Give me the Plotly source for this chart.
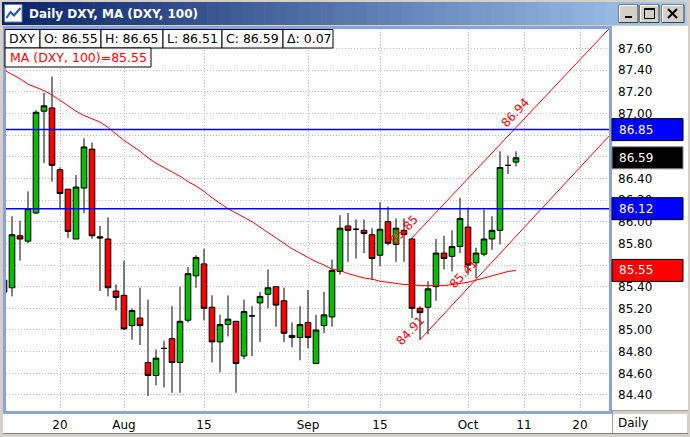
import numpy as np
import pandas as pd
import plotly.graph_objects as go

# ---------------- data ----------------
HOLIDAYS = ["2006-09-04"]
dates = pd.bdate_range("2006-07-11", "2006-10-10", freq="C", holidays=HOLIDAYS)

opens = [85.46, 85.39, 85.87, 85.82, 86.08, 87.02, 87.05,
         86.48, 86.30, 85.84, 86.31, 86.67, 85.86, 85.84, 85.36, 85.32, 85.04,
         85.11, 84.70, 84.58, 84.83, 84.92, 84.70, 85.09, 85.50, 85.61, 85.21,
         84.89, 85.05, 85.08, 84.76, 85.13, 85.25, 85.33, 85.40, 85.27, 84.93,
         84.93, 85.07, 84.69, 85.04, 85.12, 85.54, 85.96, 85.93, 85.92, 85.88,
         85.69, 86.00, 85.79, 85.92, 85.84, 85.20, 85.21, 85.40, 85.71, 85.68,
         85.77, 85.95, 85.62, 85.70, 85.84, 85.92, 86.52, 86.55]
highs = [85.50, 86.05, 86.01, 86.28, 87.03, 87.19, 87.34,
         86.50, 86.30, 86.43, 86.77, 86.73, 85.96, 86.04, 85.42, 85.64, 85.20,
         85.39, 85.28, 84.82, 84.90, 85.22, 85.40, 85.58, 85.69, 85.75, 85.32,
         85.14, 85.32, 85.08, 85.28, 85.22, 85.35, 85.56, 85.40, 85.39, 85.07,
         85.22, 85.37, 85.14, 85.35, 85.65, 86.06, 86.08, 86.02, 86.02, 85.94,
         86.18, 86.14, 86.03, 86.03, 85.85, 85.22, 85.45, 85.84, 85.87, 85.92,
         86.22, 86.13, 85.76, 86.11, 86.05, 86.65, 86.61, 86.65]
lows = [85.32, 85.31, 85.64, 85.80, 86.07, 86.54, 86.37,
        86.12, 85.85, 85.84, 86.08, 85.84, 85.36, 85.31, 85.18, 85.00, 84.91,
        84.86, 84.39, 84.49, 84.47, 84.42, 84.42, 85.07, 85.39, 85.09, 84.70,
        84.61, 84.94, 84.42, 84.73, 84.76, 84.89, 85.20, 85.03, 84.89, 84.84,
        84.72, 84.83, 84.69, 84.97, 85.03, 85.51, 85.63, 85.66, 85.71, 85.46,
        85.59, 85.78, 85.63, 85.63, 85.11, 84.91, 84.96, 85.27, 85.56, 85.54,
        85.71, 85.51, 85.48, 85.68, 85.74, 85.79, 86.44, 86.51]
closes = [85.35, 85.88, 85.84, 86.12, 87.01, 87.07, 86.52,
          86.26, 85.91, 86.32, 86.69, 85.87, 85.85, 85.39, 85.30, 85.01, 85.18,
          85.04, 84.58, 84.74, 84.83, 84.70, 85.08, 85.52, 85.67, 85.20, 84.89,
          85.05, 85.10, 84.69, 85.17, 85.13, 85.31, 85.39, 85.23, 84.97, 84.95,
          85.05, 84.93, 85.00, 85.14, 85.55, 85.94, 85.92, 85.93, 85.89, 85.66,
          85.93, 85.80, 85.94, 85.88, 85.20, 85.16, 85.38, 85.71, 85.66, 85.77,
          86.03, 85.60, 85.71, 85.84, 85.92, 86.50, 86.52, 86.59]
ma100 = [87.40, 87.36, 87.32, 87.27, 87.24, 87.21, 87.17,
         87.12, 87.07, 87.02, 86.98, 86.95, 86.92, 86.87, 86.81, 86.75, 86.70,
         86.65, 86.59, 86.54, 86.50, 86.46, 86.42, 86.37, 86.33, 86.28, 86.22,
         86.17, 86.12, 86.08, 86.04, 86.00, 85.95, 85.90, 85.85, 85.80, 85.75,
         85.71, 85.67, 85.63, 85.60, 85.56, 85.55, 85.52, 85.50, 85.48, 85.47,
         85.45, 85.44, 85.43, 85.42, 85.42, 85.41, 85.41, 85.41, 85.41, 85.42,
         85.43, 85.44, 85.46, 85.48, 85.50, 85.52, 85.54, 85.55]

hlines = [86.85, 86.12]
chan_upper_dates = ["2006-09-21", "2006-10-26"]
chan_upper_vals = [85.85, 87.81]
chan_lower_dates = ["2006-09-22", "2006-10-26"]
chan_lower_vals = [84.91, 86.82]
chan_label_dates = ["2006-09-21", "2006-09-22", "2006-10-02", "2006-10-11"]
chan_label_vals = [85.85, 84.91, 85.41, 86.94]

tick_dates = ["2006-07-20", "2006-08-01", "2006-08-15", "2006-09-01",
              "2006-09-15", "2006-10-02", "2006-10-11", "2006-10-20"]
tick_text = ["20", "Aug", "15", "Sep", "15", "Oct", "11", "20"]
price_ticks = [84.4, 84.6, 84.8, 85.0, 85.2, 85.4, 85.6, 85.8, 86.0,
               86.2, 86.4, 86.6, 86.8, 87.0, 87.2, 87.4, 87.6]


def tday(d):
    s = pd.Timestamp(d).strftime("%Y-%m-%d")
    return int(np.busday_count(np.datetime64("2006-07-20"), np.datetime64(s), holidays=HOLIDAYS))


xi = [tday(d) for d in dates]

# ---------------- geometry ----------------
W, H = 690, 437
PL, PR, PT, PB = 6, 609, 29, 411
FONT = "DejaVu Sans"


def px(x):
    return (x - PL) / (PR - PL)


def py(y):
    return (PB - y) / (PB - PT)


def R(x0, y0, x1, y1, fill, lc=None, lw=0, layer="above"):
    return dict(type="rect", xref="paper", yref="paper",
                x0=px(x0), x1=px(x1), y0=py(y1), y1=py(y0),
                fillcolor=fill, line=dict(color=lc or fill, width=lw), layer=layer)


def L(x0, y0, x1, y1, color, w=1):
    return dict(type="line", xref="paper", yref="paper",
                x0=px(x0), x1=px(x1), y0=py(y0), y1=py(y1),
                line=dict(color=color, width=w), layer="above")


fig = go.Figure()

fig.add_trace(go.Candlestick(
    x=xi, open=opens, high=highs, low=lows, close=closes,
    increasing=dict(fillcolor="#00C000", line=dict(color="#000000", width=1)),
    decreasing=dict(fillcolor="#FF0000", line=dict(color="#000000", width=1)),
    whiskerwidth=0, hoverinfo="skip", showlegend=False))

fig.add_trace(go.Scatter(x=xi, y=ma100, mode="lines",
                         line=dict(color="#FF0000", width=1),
                         hoverinfo="skip", showlegend=False))
fig.add_trace(go.Scatter(x=[tday(d) for d in chan_upper_dates], y=chan_upper_vals,
                         mode="lines", line=dict(color="#FF0000", width=1),
                         hoverinfo="skip", showlegend=False))
fig.add_trace(go.Scatter(x=[tday(d) for d in chan_lower_dates], y=chan_lower_vals,
                         mode="lines", line=dict(color="#FF0000", width=1),
                         hoverinfo="skip", showlegend=False))

shapes = []
# white areas outside plot (below axis labels)
shapes.append(R(612, 26, 688, 410, "#FFFFFF", layer="below"))
shapes.append(R(3, 414, 687, 433, "#FFFFFF", layer="below"))

# horizontal blue lines
for v in hlines:
    shapes.append(dict(type="line", xref="paper", yref="y", x0=0, x1=1, y0=v, y1=v,
                       line=dict(color="#0000FF", width=1.5), layer="above"))

# plot border
BC = "#8DA2DB"
shapes.append(R(3, 26, 612, 29, BC))
shapes.append(R(3, 411, 612, 414, BC))
shapes.append(R(3, 26, 6, 414, BC))
shapes.append(R(609, 26, 612, 411, BC))
# separators in axis area
shapes.append(L(612, 410.5, 688, 410.5, "#A0A0A0", 1))
shapes.append(L(612.5, 411, 612.5, 433, "#A0A0A0", 1))
shapes.append(L(3, 433.5, 688, 433.5, "#808080", 1))

# title bar gradient
c0 = np.array([10, 36, 106])
c1 = np.array([166, 202, 240])
n = 60
x_start, x_end = 2, 686
for i in range(n):
    t = i / (n - 1)
    c = (c0 + (c1 - c0) * t).astype(int)
    xa = x_start + (x_end - x_start) * i / n
    xb = x_start + (x_end - x_start) * (i + 1) / n + 0.6
    shapes.append(R(xa, 2, xb, 25, "rgb(%d,%d,%d)" % tuple(c)))

# icon
shapes.append(dict(type="rect", xref="paper", yref="paper", x0=px(4.5), x1=px(22), y0=py(22), y1=py(4.5),
                   fillcolor="#FFFFFF", line=dict(color="#6080B0", width=1), layer="above"))
shapes.append(dict(type="path", xref="paper", yref="paper",
                   path="M %f,%f L %f,%f L %f,%f L %f,%f" % (px(6.5), py(18), px(10.5), py(12), px(14), py(15.5), px(20.5), py(8)),
                   line=dict(color="#2050C0", width=2), layer="above"))

# window buttons
for (bx0, bx1) in [(619, 638), (640, 659), (662, 684)]:
    shapes.append(R(bx0, 5, bx1, 22.5, "#D4D0C8", "#404040", 1))
    shapes.append(L(bx0 + 0.5, 5.5, bx1 - 1, 5.5, "#FFFFFF", 1))
    shapes.append(L(bx0 + 0.5, 5.5, bx0 + 0.5, 22, "#FFFFFF", 1))
shapes.append(R(625, 16, 632, 18, "#000000"))
shapes.append(dict(type="rect", xref="paper", yref="paper", x0=px(644.5), x1=px(654.5), y0=py(18.5), y1=py(8.5),
                   fillcolor="rgba(0,0,0,0)", line=dict(color="#000000", width=1), layer="above"))
shapes.append(R(644.5, 8.5, 654.5, 10, "#000000"))
shapes.append(L(668, 9, 677, 18, "#000000", 2))
shapes.append(L(677, 9, 668, 18, "#000000", 2))

# info boxes
box_edges = [5, 40, 101, 163, 222, 283, 333]
for i in range(len(box_edges) - 1):
    shapes.append(R(box_edges[i], 29.5, box_edges[i + 1], 48, "#FFFFFF", "#000000", 1))
shapes.append(R(5, 48, 151, 67, "#FFFFFF", "#000000", 1))

# price boxes on right axis
price_boxes = [(hlines[0], "#0000FF", "#000000"), (closes[-1], "#000000", "#808080"),
               (hlines[1], "#0000FF", "#000000"), (ma100[-1], "#FF0000", "#000000")]
for v, fc, lc in price_boxes:
    shapes.append(dict(type="rect", xref="paper", yref="y", ysizemode="pixel", yanchor=v,
                       y0=-11, y1=11, x0=px(612), x1=px(683),
                       fillcolor=fc, line=dict(color=lc, width=1), layer="above"))

# tick labels fully hidden behind a price box are left blank
price_ticktext = []
for t in price_ticks:
    hidden = any(abs(t - v) < 0.06 for v, _, _ in price_boxes)
    price_ticktext.append("" if hidden else "%.2f" % t)

annotations = []
annotations.append(dict(text="<b>Daily DXY, MA (DXY, 100)</b>", xref="paper", yref="paper",
                        x=px(27), y=py(13.5), xanchor="left", yanchor="middle", showarrow=False,
                        font=dict(family=FONT, size=12, color="#FFFFFF")))
info_texts = ["DXY", "O: %.2f" % opens[-1], "H: %.2f" % highs[-1], "L: %.2f" % lows[-1],
              "C: %.2f" % closes[-1], "Δ: %.2f" % (closes[-1] - closes[-2])]
for i, t in enumerate(info_texts):
    annotations.append(dict(text=t, xref="paper", yref="paper", x=px(box_edges[i] + 2), y=py(39),
                            xanchor="left", yanchor="middle", showarrow=False,
                            font=dict(family=FONT, size=12.5, color="#000000")))
annotations.append(dict(text="MA (DXY, 100)=%.2f" % ma100[-1], xref="paper", yref="paper",
                        x=px(8), y=py(57.5), xanchor="left", yanchor="middle", showarrow=False,
                        font=dict(family=FONT, size=12.5, color="#FF0000")))
for v, fc, lc in price_boxes:
    annotations.append(dict(text="%.2f" % v, xref="paper", yref="y", x=px(617), y=v,
                            xanchor="left", yanchor="middle", showarrow=False,
                            font=dict(family=FONT, size=12, color="#FFFFFF")))
shifts = [(-8, 8), (-10, 9), (-5, 12), (-9, 7)]
for d, v, (sx, sy) in zip(chan_label_dates, chan_label_vals, shifts):
    annotations.append(dict(text="%.2f" % v, xref="x", yref="y", x=tday(d), y=v,
                            xshift=sx, yshift=sy, textangle=-47, showarrow=False,
                            font=dict(family=FONT, size=12, color="#FF0000")))
annotations.append(dict(text="Daily", xref="paper", yref="paper", x=px(616), y=py(423),
                        xanchor="left", yanchor="middle", showarrow=False,
                        font=dict(family=FONT, size=12, color="#000000")))

grid = dict(showgrid=True, gridcolor="#C0C0C0", griddash="1px,2px", gridwidth=1,
            zeroline=False, showline=False, ticks="")

fig.update_layout(
    width=W, height=H, margin=dict(l=PL, r=W - PR, t=PT, b=H - PB, pad=0),
    paper_bgcolor="#D4D0C8", plot_bgcolor="#FFFFFF",
    font=dict(family=FONT, size=12, color="#000000"),
    showlegend=False, hovermode=False, boxgap=0.16, boxgroupgap=0.16,
    shapes=shapes, annotations=annotations,
    xaxis=dict(range=[-6.75, 68.625], tickmode="array",
               tickvals=[tday(d) for d in tick_dates], ticktext=tick_text,
               rangeslider=dict(visible=False), ticklabelstandoff=5,
               tickfont=dict(family=FONT, size=12, color="#000000"), **grid),
    yaxis=dict(range=[84.252, 87.779], side="right", tickmode="array",
               tickvals=price_ticks, ticktext=price_ticktext, ticklabelstandoff=8,
               tickfont=dict(family=FONT, size=12, color="#000000"), **grid),
)

fig.write_html("out.html", config={"displayModeBar": False},
               post_script="document.body.style.margin='0';document.body.style.overflow='hidden';")
